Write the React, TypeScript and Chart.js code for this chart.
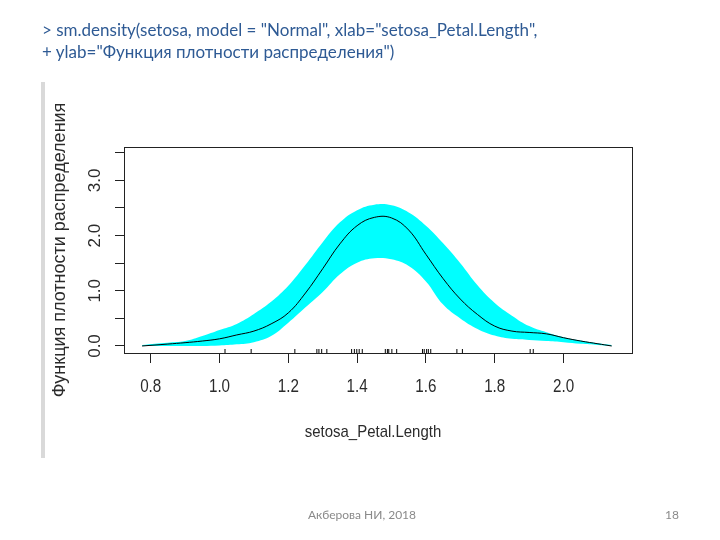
import React, { useEffect, useRef } from "react";
import { Chart, registerables } from "chart.js";

Chart.register(...registerables);

// ---- data ----
const gridX = [0.775, 0.85, 0.9, 0.95, 1.0, 1.05, 1.1, 1.15, 1.2, 1.25, 1.3, 1.35, 1.4, 1.45, 1.5, 1.55, 1.6, 1.65, 1.7, 1.75, 1.8, 1.85, 1.9, 1.95, 2.0, 2.05, 2.1, 2.14];
const densityMean = [0.0, 0.035, 0.06, 0.09, 0.13, 0.2, 0.27, 0.4, 0.6, 0.96, 1.4, 1.85, 2.18, 2.33, 2.32, 2.1, 1.66, 1.22, 0.85, 0.57, 0.36, 0.27, 0.245, 0.22, 0.15, 0.09, 0.04, 0.0];
const bandUpper = [0.02, 0.06, 0.09, 0.18, 0.29, 0.4, 0.58, 0.8, 1.09, 1.47, 1.88, 2.24, 2.46, 2.56, 2.55, 2.42, 2.18, 1.86, 1.5, 1.1, 0.78, 0.55, 0.36, 0.25, 0.16, 0.1, 0.05, 0.02];
const bandLower = [0.0, 0.0, 0.0, 0.0, 0.01, 0.03, 0.07, 0.18, 0.42, 0.7, 0.98, 1.3, 1.51, 1.59, 1.57, 1.45, 1.17, 0.75, 0.5, 0.31, 0.19, 0.13, 0.11, 0.09, 0.07, 0.04, 0.02, 0.0];
const rugValues = [1.016, 1.092, 1.219, 1.283, 1.289, 1.297, 1.312, 1.384, 1.392, 1.399, 1.406, 1.415, 1.482, 1.488, 1.492, 1.501, 1.515, 1.59, 1.595, 1.602, 1.607, 1.614, 1.69, 1.706, 1.903, 1.912];
const xTickValues = [0.8, 1.0, 1.2, 1.4, 1.6, 1.8, 2.0];
const yTickValues = [0, 0.5, 1.0, 1.5, 2.0, 2.5, 3.0, 3.5];
const yLabelValues = [0, 1, 2, 3];
const xAxisTitle = "setosa_Petal.Length";
const yAxisTitle = "Функция плотности распределения";
const codeLine1 = '> sm.density(setosa, model = "Normal", xlab="setosa_Petal.Length",';
const codeLine2 = '+ ylab="Функция плотности распределения")';
const footerText = "Акберова НИ, 2018";
const pageNumber = "18";

const X_MIN = 0.7224;
const X_MAX = 2.199;
const Y_MIN = -0.127;
const Y_MAX = 3.605;

const toPoints = (ys: number[]) => gridX.map((x, i) => ({ x, y: ys[i] }));

const axisFont = '"Liberation Sans", Arial, sans-serif';

const rPlotPlugin = {
  id: "rPlotDecor",
  afterDraw(chart: any) {
    const { ctx, chartArea } = chart;
    const xs = chart.scales.x;
    const ys = chart.scales.y;
    ctx.save();
    // box
    ctx.strokeStyle = "#222";
    ctx.lineWidth = 1;
    ctx.strokeRect(
      Math.round(chartArea.left) + 0.5,
      Math.round(chartArea.top) + 0.5,
      Math.round(chartArea.right - chartArea.left),
      Math.round(chartArea.bottom - chartArea.top)
    );
    ctx.fillStyle = "#2b2b2b";
    ctx.textAlign = "center";
    ctx.textBaseline = "middle";
    // x tick labels
    ctx.font = `19px ${axisFont}`;
    for (const v of xTickValues) {
      const px = xs.getPixelForValue(v);
      ctx.save();
      ctx.translate(px, chartArea.bottom + 34);
      ctx.scale(0.8, 1);
      ctx.fillText(v.toFixed(1), 0, 0);
      ctx.restore();
    }
    // x title
    ctx.font = `17px ${axisFont}`;
    ctx.save();
    ctx.translate((chartArea.left + chartArea.right) / 2 - 5, chartArea.bottom + 79);
    ctx.scale(0.88, 1);
    ctx.fillText(xAxisTitle, 0, 0);
    ctx.restore();
    // y tick labels (rotated, R style)
    ctx.font = `17px ${axisFont}`;
    for (const v of yLabelValues) {
      const py = ys.getPixelForValue(v);
      ctx.save();
      ctx.translate(chartArea.left - 29, py);
      ctx.rotate(-Math.PI / 2);
      ctx.fillText(v.toFixed(1), 0, 0);
      ctx.restore();
    }
    // y title
    ctx.font = `18px ${axisFont}`;
    ctx.save();
    ctx.translate(chartArea.left - 64, (chartArea.top + chartArea.bottom) / 2);
    ctx.rotate(-Math.PI / 2);
    ctx.fillText(yAxisTitle, 0, 0);
    ctx.restore();
    ctx.restore();
  },
};

function DensityChart() {
  const ref = useRef<HTMLCanvasElement | null>(null);
  useEffect(() => {
    if (!ref.current) return;
    const chart = new Chart(ref.current, {
      type: "line",
      data: {
        datasets: [
          {
            label: "density",
            data: toPoints(densityMean),
            borderColor: "#000",
            borderWidth: 1,
            pointRadius: 0,
            fill: false,
            tension: 0.4,
          } as any,
          {
            type: "scatter",
            label: "rug",
            data: rugValues.map((v) => ({ x: v, y: -0.1 })),
            pointStyle: "line",
            rotation: 90,
            pointRadius: 2.5,
            borderColor: "#000",
            borderWidth: 1,
            showLine: false,
          } as any,
          {
            label: "upper",
            data: toPoints(bandUpper),
            borderWidth: 0,
            borderColor: "rgba(0,0,0,0)",
            backgroundColor: "#00FFFF",
            pointRadius: 0,
            fill: "+1",
            tension: 0.4,
          } as any,
          {
            label: "lower",
            data: toPoints(bandLower),
            borderWidth: 0,
            borderColor: "rgba(0,0,0,0)",
            pointRadius: 0,
            fill: false,
            tension: 0.4,
          } as any,
        ],
      },
      options: {
        animation: false,
        responsive: false,
        events: [],
        layout: { padding: { top: 147, right: 88, left: 0, bottom: 0 } },
        plugins: { legend: { display: false }, tooltip: { enabled: false } },
        scales: {
          x: {
            type: "linear",
            min: X_MIN,
            max: X_MAX,
            afterBuildTicks: (s: any) => {
              s.ticks = xTickValues.map((v) => ({ value: v }));
            },
            afterFit: (s: any) => {
              s.height = 187;
            },
            grid: { display: true, drawOnChartArea: false, drawTicks: true, tickLength: 10, color: "#222", lineWidth: 1 },
            border: { display: false },
            ticks: { display: false },
          },
          y: {
            type: "linear",
            min: Y_MIN,
            max: Y_MAX,
            afterBuildTicks: (s: any) => {
              s.ticks = yTickValues.map((v) => ({ value: v }));
            },
            afterFit: (s: any) => {
              s.width = 124;
            },
            grid: { display: true, drawOnChartArea: false, drawTicks: true, tickLength: 9, color: "#222", lineWidth: 1 },
            border: { display: false },
            ticks: { display: false },
          },
        },
      } as any,
      plugins: [rPlotPlugin],
    });
    return () => chart.destroy();
  }, []);
  return <canvas ref={ref} width={720} height={540} style={{ position: "absolute", left: 0, top: 0, width: 720, height: 540 }} />;
}

export default function App() {
  return (
    <div style={{ position: "absolute", left: 0, top: 0, width: 720, height: 540, background: "#fff", overflow: "hidden" }}>
      <div style={{ position: "absolute", left: 41, top: 82, width: 4, height: 376, background: "#d9d9d9" }} />
      <DensityChart />
      <div
        style={{
          position: "absolute",
          left: 42,
          top: 19,
          fontFamily: 'Lato, "Open Sans", sans-serif',
          fontSize: 17,
          lineHeight: "22px",
          color: "#2E5A94",
          whiteSpace: "pre",
        }}
      >
        {codeLine1}
        <br />
        {codeLine2}
      </div>
      <div style={{ position: "absolute", left: 308, top: 507, fontFamily: 'Lato, "Open Sans", sans-serif', fontSize: 12, lineHeight: "16px", color: "#8a8a8a", whiteSpace: "pre" }}>
        {footerText}
      </div>
      <div style={{ position: "absolute", left: 665, top: 507, fontFamily: 'Lato, "Open Sans", sans-serif', fontSize: 12, lineHeight: "16px", color: "#8a8a8a" }}>
        {pageNumber}
      </div>
    </div>
  );
}
